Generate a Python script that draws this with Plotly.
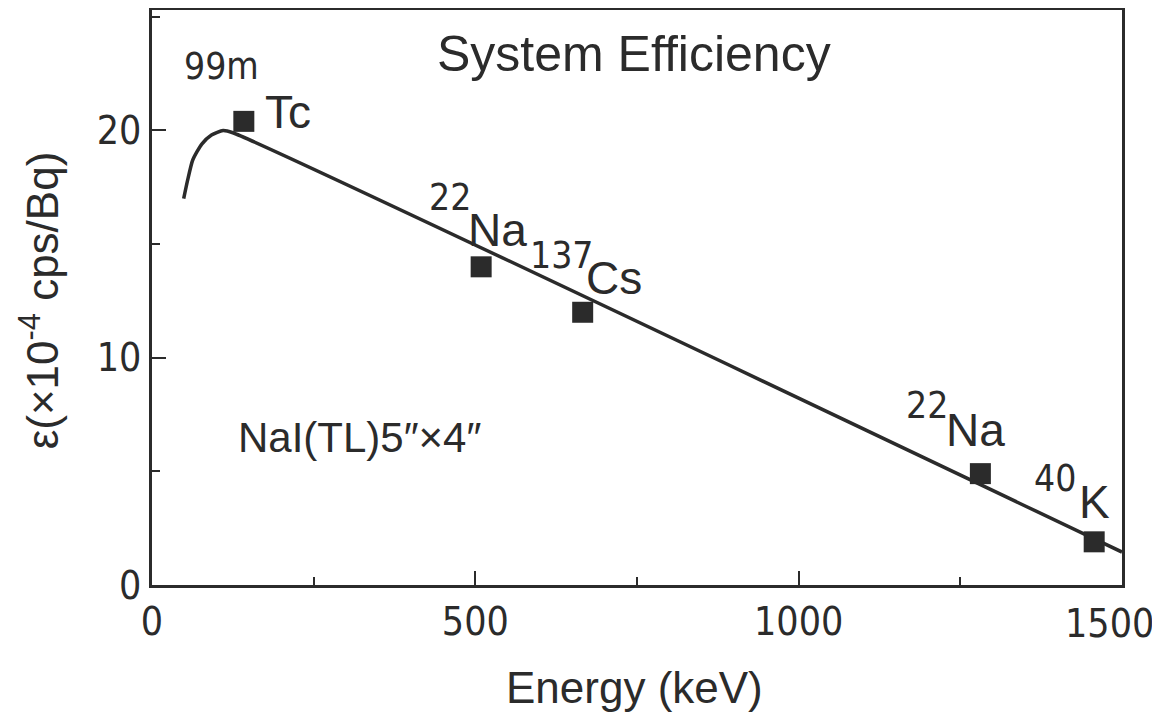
import plotly.graph_objects as go

# measured points (keV, x1e-4 cps/Bq)
point_energy = [142, 509, 666, 1281, 1457]
point_eff = [20.4, 14.0, 12.0, 4.9, 1.9]

# fitted curve
curve_energy = [49, 55, 63, 77, 92, 110, 125, 1500]
curve_eff = [17.0, 17.8, 18.7, 19.4, 19.8, 20.0, 19.9, 1.45]

# axis ticks (the last x label sits at the page edge, drawn separately below)
x_ticks = [0, 500, 1000, 1500]
x_ticktext = ["0", "500", "1000", ""]
x_last_label = "1500"
y_ticks = [0, 10, 20]

# isotope labels: (mass number, element, x/y of mass, x/y of element)
iso_mass = ["99m", "22", "137", "22", "40"]
iso_elem = ["Tc", "Na", "Cs", "Na", "K"]
mass_xy = [(108, 22.8), (461, 17.05), (634, 14.5), (1199, 7.9), (1397, 4.67)]
elem_xy = [(211, 20.8), (535, 15.6), (714, 13.5), (1273, 6.8), (1458, 3.66)]

INK = "#2b2b2b"
FONT = "Liberation Sans, Arial, sans-serif"
NARROW = "Liberation Sans Narrow, DejaVu Sans Condensed, Liberation Sans, sans-serif"

fig = go.Figure()

fig.add_trace(go.Scatter(
    x=curve_energy, y=curve_eff, mode="lines",
    line=dict(color=INK, width=3.5, shape="spline", smoothing=0.6),
    showlegend=False,
))
fig.add_trace(go.Scatter(
    x=point_energy, y=point_eff, mode="markers",
    marker=dict(symbol="square", size=21, color=INK),
    showlegend=False,
))

# --- text labels -----------------------------------------------------------
for m, e, (mx, my), (ex, ey) in zip(iso_mass, iso_elem, mass_xy, elem_xy):
    fig.add_annotation(x=mx, y=my, text=m, showarrow=False,
                       font=dict(size=37, color=INK, family=NARROW))
    fig.add_annotation(x=ex, y=ey, text=e, showarrow=False,
                       font=dict(size=46, color=INK, family=FONT))

fig.add_annotation(x=745, y=23.35, text="System Efficiency", showarrow=False,
                   font=dict(size=50, color=INK, family=FONT))
fig.add_annotation(x=321, y=6.5, text="NaI(TL)5\u2033\u00d74\u2033", showarrow=False,
                   font=dict(size=42, color=INK, family=FONT))

# last x tick label, pulled in so it stays on the page
fig.add_annotation(x=x_ticks[-1], xref="x", y=0, yref="paper",
                   text=x_last_label, showarrow=False,
                   xanchor="right", yanchor="middle", xshift=34, yshift=-38,
                   font=dict(size=39, color=INK, family=NARROW))

# axis titles placed in paper space
fig.add_annotation(xref="paper", yref="paper", x=0.497, y=-0.179,
                   text="Energy (keV)", showarrow=False, yanchor="middle",
                   font=dict(size=44, color=INK, family=FONT))
fig.add_annotation(xref="paper", yref="paper", x=-0.1165, y=0.495,
                   text="\u03b5(\u00d710<sup>-4</sup> cps/Bq)", showarrow=False,
                   textangle=-90, xanchor="center", yanchor="middle",
                   font=dict(size=44, color=INK, family=FONT))

# --- layout ----------------------------------------------------------------
axis_common = dict(
    showline=True, mirror=True, linecolor=INK, linewidth=2.5,
    showgrid=False, zeroline=False, ticks="inside", ticklen=14,
    tickwidth=2, tickcolor=INK, automargin=False,
    ticklabeloverflow="allow",
    tickfont=dict(size=39, color=INK, family=NARROW),
    minor=dict(ticks="inside", ticklen=8, tickwidth=2, tickcolor=INK),
)

fig.update_xaxes(
    range=[0, 1500], tickvals=x_ticks, ticktext=x_ticktext,
    minor_dtick=250, minor_tick0=0,
    **axis_common,
)
fig.update_yaxes(
    range=[0, 25.3], tickvals=y_ticks,
    minor_dtick=5, minor_tick0=0,
    **axis_common,
)

# page has an 8px body margin, so the figure is sized to the visible area
fig.update_layout(
    width=1152, height=707,
    paper_bgcolor="white", plot_bgcolor="white",
    margin=dict(l=144, r=38, t=2, b=130),
)

fig.write_html("out.html")
